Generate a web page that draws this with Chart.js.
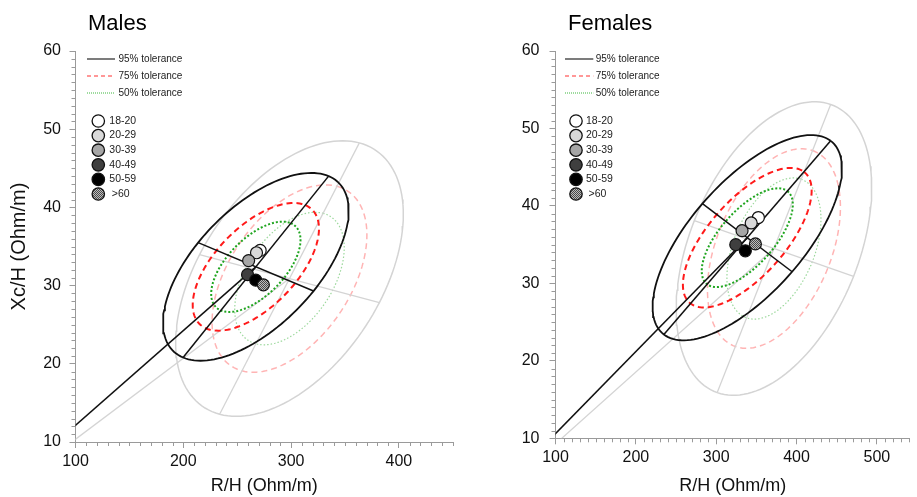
<!DOCTYPE html>
<html>
<head>
<meta charset="utf-8">
<script src="https://cdn.jsdelivr.net/npm/chart.js@4.4.1/dist/chart.umd.min.js"></script>
<style>
  body { margin: 0; background: #fff; }
  #wrap { position: relative; width: 917px; height: 497px; }
  canvas { position: absolute; top: 0; }
  #males { left: 0; }
  #females { left: 460px; }
</style>
</head>
<body>
<div id="wrap">
  <canvas id="males" width="460" height="497"></canvas>
  <canvas id="females" width="457" height="497"></canvas>
</div>
<script>
// tick labels
var yTicks = [10, 20, 30, 40, 50, 60];
var maleXTicks = [100, 200, 300, 400];
var femaleXTicks = [100, 200, 300, 400, 500];

// age group means (R/H, Xc/H)
var ageGroups = ['18-20', '20-29', '30-39', '40-49', '50-59', '>60'];
var maleR = [271.3, 267.9, 260.6, 259.6, 267.2, 274.3];
var maleXc = [34.5, 34.2, 33.2, 31.4, 30.7, 30.1];
var femaleR = [352.5, 343.6, 332.2, 324.4, 336.3, 348.8];
var femaleXc = [38.5, 37.8, 36.8, 35.0, 34.2, 35.1];

// tolerance ellipses: mean and two conjugate semi-diameters of the 95% ellipse
var maleSampleMean = [267.3, 32.4];
var maleSampleAxis1 = [67.5, 11.6];
var maleSampleAxis2 = [53.5, -3.1];
var maleRefMean = [298.5, 30.9];
var maleRefAxis1 = [64.8, 17.35];
var maleRefAxis2 = [83.4, -3.07];

var femaleSampleMean = [338.7, 35.9];
var femaleSampleAxis1 = [103.8, 12.5];
var femaleSampleAxis2 = [55.8, -4.4];
var femaleRefMean = [371.9, 34.5];
var femaleRefAxis1 = [70.6, 18.6];
var femaleRefAxis2 = [99.1, -3.6];

var toleranceLabels = ['95% tolerance', '75% tolerance', '50% tolerance'];
var toleranceScale = [1, 0.68, 0.481];

Chart.defaults.font.family = '"Liberation Sans", Arial, sans-serif';
Chart.defaults.color = '#111';

function hatch() {
    var c = document.createElement('canvas');
    c.width = 2; c.height = 2;
    var g = c.getContext('2d');
    g.fillStyle = '#bdbdbd'; g.fillRect(0, 0, 2, 2);
    g.fillStyle = '#4a4a4a'; g.fillRect(0, 0, 1, 1); g.fillRect(1, 1, 1, 1);
    return g.createPattern(c, 'repeat');
}
var hatchFill = hatch();
var ageFills = ['#ffffff', '#d9d9d9', '#a6a6a6', '#3f3f3f', '#000000', hatchFill];

var sampleStyles = [
    { color: '#111111', width: 1.8, dash: [] },
    { color: '#ff1a1a', width: 2, dash: [6, 4] },
    { color: '#1fa51f', width: 2, dash: [2, 2] }
];
var refStyles = [
    { color: '#d4d4d4', width: 1.5, dash: [] },
    { color: '#ffb4b4', width: 1.5, dash: [6, 4] },
    { color: '#9cd89c', width: 1.2, dash: [1.5, 2] }
];

function ellipse(m, a, b, k) {
    var pts = [];
    for (var i = 0; i <= 144; i++) {
        var t = i / 144 * 2 * Math.PI;
        pts.push({
            x: m[0] + k * (a[0] * Math.cos(t) + b[0] * Math.sin(t)),
            y: m[1] + k * (a[1] * Math.cos(t) + b[1] * Math.sin(t))
        });
    }
    return pts;
}

function lineSet(label, data, st, order) {
    return {
        label: label, data: data, showLine: true, pointRadius: 0,
        borderColor: st.color, borderWidth: st.width, borderDash: st.dash,
        tension: 0, order: order
    };
}

function ellipseSets(m, a, b, styles, name, order) {
    var sets = [];
    toleranceScale.forEach(function (k, i) {
        sets.push(lineSet(name + ' ' + toleranceLabels[i], ellipse(m, a, b, k), styles[i], order + i));
    });
    var axisStyle = { color: styles[0].color, width: styles[0].width * 0.85, dash: [] };
    [a, b].forEach(function (d, i) {
        sets.push(lineSet(name + ' axis ' + (i + 1),
            [{ x: m[0] - d[0], y: m[1] - d[1] }, { x: m[0] + d[0], y: m[1] + d[1] }], axisStyle, order));
    });
    sets.push(lineSet(name + ' vector', [{ x: 0, y: 0 }, { x: m[0], y: m[1] }], axisStyle, order));
    return sets;
}

var minorTicks = {
    id: 'minorTicks',
    afterDraw: function (chart) {
        var ctx = chart.ctx, x = chart.scales.x, y = chart.scales.y;
        ctx.save();
        ctx.strokeStyle = '#9a9a9a';
        ctx.lineWidth = 1;
        ctx.beginPath();
        for (var v = Math.ceil(x.min / 10) * 10; v <= x.max; v += 10) {
            if (v % 100 === 0) continue;
            var px = Math.round(x.getPixelForValue(v)) + 0.5;
            ctx.moveTo(px, y.bottom); ctx.lineTo(px, y.bottom + 4);
        }
        for (var w = y.min; w <= y.max; w += 1) {
            if (w % 10 === 0) continue;
            var py = Math.round(y.getPixelForValue(w)) + 0.5;
            ctx.moveTo(x.left, py); ctx.lineTo(x.left - 4, py);
        }
        ctx.stroke();
        ctx.restore();
    }
};

var insideLegend = {
    id: 'insideLegend',
    afterDraw: function (chart, args, o) {
        var ctx = chart.ctx, L = chart.chartArea.left, T = chart.chartArea.top;
        ctx.save();
        // panel title
        ctx.fillStyle = '#000';
        ctx.font = '22px "Liberation Sans", Arial, sans-serif';
        ctx.textBaseline = 'alphabetic';
        ctx.fillText(o.title, L + 12.5, 30);

        var legStyles = [
            { color: '#111', width: 1.1, dash: [] },
            { color: '#ff3030', width: 1.2, dash: [4, 3] },
            { color: '#3fb83f', width: 1.2, dash: [1, 1] }
        ];
        ctx.font = '10px "Liberation Sans", Arial, sans-serif';
        ctx.textBaseline = 'middle';
        toleranceLabels.forEach(function (lab, i) {
            var yy = T + 8 + i * 17;
            var s = legStyles[i];
            ctx.strokeStyle = s.color; ctx.lineWidth = s.width; ctx.setLineDash(s.dash);
            ctx.beginPath(); ctx.moveTo(L + o.lineX0, yy); ctx.lineTo(L + o.lineX1, yy); ctx.stroke();
            ctx.setLineDash([]);
            ctx.fillStyle = '#222';
            ctx.fillText(lab, L + o.textX, yy);
        });
        ctx.font = '10.5px "Liberation Sans", Arial, sans-serif';
        ageGroups.forEach(function (lab, i) {
            var yy = T + 70 + i * 14.6;
            ctx.beginPath();
            ctx.arc(L + o.dotX, yy, 6.2, 0, 2 * Math.PI);
            ctx.fillStyle = ageFills[i]; ctx.fill();
            ctx.strokeStyle = '#111'; ctx.lineWidth = 1.3; ctx.stroke();
            ctx.fillStyle = '#222';
            ctx.fillText(lab, L + o.dotTextX + (lab === '>60' ? 2.5 : 0), yy);
        });
        ctx.restore();
    }
};

function makeChart(id, opts) {
    var ctx = document.getElementById(id).getContext('2d');
    var points = {
        label: 'Age groups',
        data: opts.r.map(function (r, i) { return { x: r, y: opts.xc[i] }; }),
        showLine: false,
        pointRadius: 6,
        pointBackgroundColor: ageFills,
        pointBorderColor: '#111',
        pointBorderWidth: 1.2,
        order: 0
    };
    var datasets = [points]
        .concat(ellipseSets(opts.sMean, opts.sA, opts.sB, sampleStyles, 'Sample', 1))
        .concat(ellipseSets(opts.rMean, opts.rA, opts.rB, refStyles, 'Reference', 10));

    return new Chart(ctx, {
        type: 'scatter',
        data: { datasets: datasets },
        options: {
            responsive: false,
            animation: false,
            events: [],
            layout: { padding: { top: 51, right: opts.padRight, bottom: 0, left: 0 } },
            plugins: {
                legend: { display: false },
                tooltip: { enabled: false },
                insideLegend: opts.legend
            },
            scales: {
                x: {
                    type: 'linear', min: 100, max: opts.xMax,
                    afterBuildTicks: function (s) { s.ticks = opts.xTicks.map(function (v) { return { value: v }; }); },
                    afterFit: function (s) { s.height = opts.xHeight; },
                    ticks: { font: { size: 16 }, color: '#111', padding: 4, maxRotation: 0, autoSkip: false },
                    grid: { drawOnChartArea: false, drawTicks: true, tickLength: 6, color: '#9a9a9a' },
                    border: { color: '#9a9a9a', width: 1 },
                    title: { display: true, text: 'R/H (Ohm/m)', font: { size: 18 }, color: '#111', padding: { top: 0, bottom: 0 } }
                },
                y: {
                    type: 'linear', min: 10, max: 60,
                    afterBuildTicks: function (s) { s.ticks = yTicks.map(function (v) { return { value: v }; }); },
                    afterFit: function (s) { s.width = opts.yWidth; },
                    ticks: { font: { size: 16 }, color: '#111', padding: opts.yPad, autoSkip: false },
                    grid: { drawOnChartArea: false, drawTicks: true, tickLength: 6, color: '#9a9a9a' },
                    border: { color: '#9a9a9a', width: 1 },
                    title: { display: opts.yTitle, text: 'Xc/H (Ohm/m)', font: { size: 20 }, color: '#111', padding: { top: 7, bottom: 0 } }
                }
            }
        },
        plugins: [minorTicks, insideLegend]
    });
}

window.onload = function () {
    makeChart('males', {
        r: maleR, xc: maleXc,
        sMean: maleSampleMean, sA: maleSampleAxis1, sB: maleSampleAxis2,
        rMean: maleRefMean, rA: maleRefAxis1, rB: maleRefAxis2,
        xMax: 450, xTicks: maleXTicks, xHeight: 55, yWidth: 75.5, yPad: 8.5, yTitle: true, padRight: 2.5,
        legend: { title: 'Males', lineX0: 11.5, lineX1: 39.5, textX: 43, dotX: 22.8, dotTextX: 33.8 }
    });
    makeChart('females', {
        r: femaleR, xc: femaleXc,
        sMean: femaleSampleMean, sA: femaleSampleAxis1, sB: femaleSampleAxis2,
        rMean: femaleRefMean, rA: femaleRefAxis1, rB: femaleRefAxis2,
        xMax: 541, xTicks: femaleXTicks, xHeight: 58.7, yWidth: 95.5, yPad: 10, yTitle: false, padRight: 0,
        legend: { title: 'Females', lineX0: 9.5, lineX1: 37.8, textX: 40.2, dotX: 20.5, dotTextX: 30.5 }
    });
};
</script>
</body>
</html>
